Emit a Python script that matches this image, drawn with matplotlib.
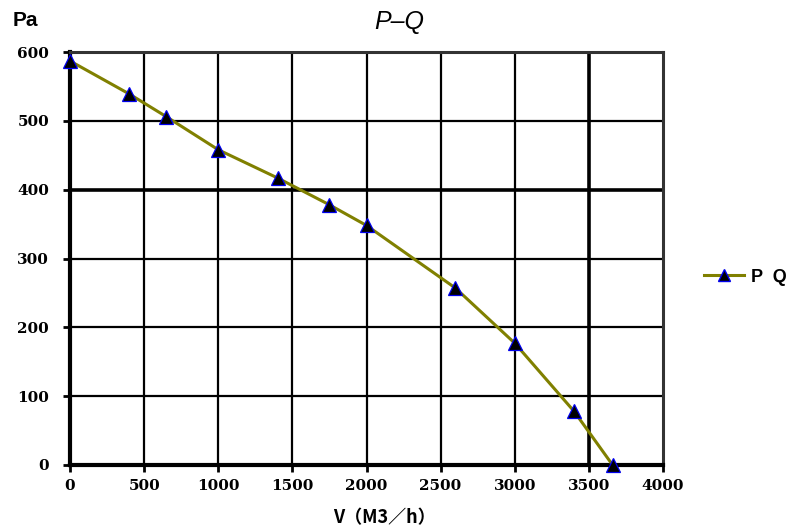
import matplotlib
matplotlib.use("Agg")
import matplotlib.pyplot as plt
from matplotlib.lines import Line2D

flow = [0, 400, 650, 1000, 1400, 1750, 2000, 2600, 3000, 3400, 3660]
pressure = [587, 539, 506, 458, 417, 378, 348, 257, 177, 78, 0]
xticks = [0, 500, 1000, 1500, 2000, 2500, 3000, 3500, 4000]
yticks = [0, 100, 200, 300, 400, 500, 600]

fig = plt.figure(figsize=(7.9, 5.31), dpi=100)
ax = fig.add_axes([70/790, 1-465/531, (663-70)/790, (465-52)/531])
ax.set_xlim(0, 4000)
ax.set_ylim(0, 600)
ax.set_xticks(xticks)
ax.set_yticks(yticks)

for x in xticks[1:-1]:
    lw = 2.6 if x == 3500 else 1.6
    ax.axvline(x, color='black', lw=lw, zorder=1)
for y in yticks[1:-1]:
    lw = 2.6 if y == 400 else 1.6
    ax.axhline(y, color='black', lw=lw, zorder=1)

ax.plot(flow, pressure, color='#808000', lw=2.2, marker='^', markersize=10,
        markerfacecolor='black', markeredgecolor='#0000ee', markeredgewidth=0.9,
        zorder=3, clip_on=False)

for s in ['left', 'bottom']:
    ax.spines[s].set_linewidth(3)
for s in ['top', 'right']:
    ax.spines[s].set_linewidth(2.2)
    ax.spines[s].set_color('#333333')

ax.tick_params(axis='both', direction='out', length=5, width=2, colors='black',
               labelsize=11)
ax.tick_params(axis='y', pad=10)
ax.tick_params(axis='x', pad=5)
for lab in ax.get_xticklabels() + ax.get_yticklabels():
    lab.set_family('DejaVu Serif')
    lab.set_fontweight('bold')

fig.text(13/790, 1-21/531, 'Pa', fontsize=15, fontweight='bold',
         family='Liberation Sans', va='center', ha='left')
fig.text(399/790, 1-22/531, 'P–Q', fontsize=18, fontstyle='italic',
         family='Liberation Sans', va='center', ha='center')
fig.text(384/790, 1-518/531, 'V（M3／h）', fontsize=13, fontweight='bold',
         family=['Noto Sans CJK SC', 'DejaVu Sans'], va='center', ha='center')

handle = Line2D([0], [0], color='#808000', lw=2.2, marker='^', markersize=8,
                markerfacecolor='black', markeredgecolor='#0000ee')
fig.legend([handle], ['P  Q'], loc='center left',
           bbox_to_anchor=(688/790, 1-277/531), frameon=False,
           handlelength=2.2, handletextpad=0.4,
           prop={'family': 'Liberation Sans', 'weight': 'bold', 'size': 13})

fig.savefig('out.png', dpi=100)
